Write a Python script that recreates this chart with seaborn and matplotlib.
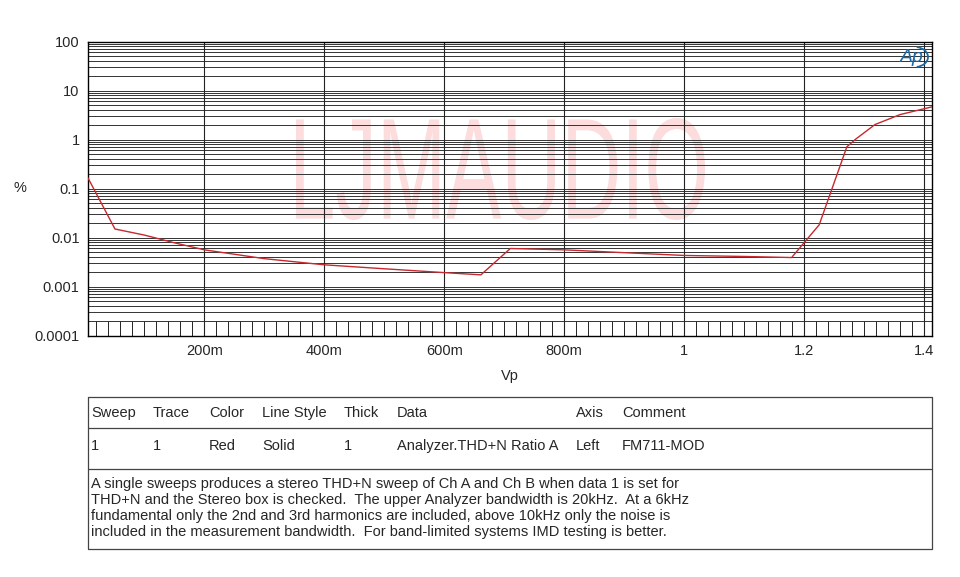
import numpy as np
import pandas as pd
import matplotlib
matplotlib.use("Agg")
import matplotlib.pyplot as plt
import seaborn as sns
from matplotlib.textpath import TextPath
from matplotlib.patches import PathPatch, Arc
from matplotlib.transforms import Affine2D, IdentityTransform
from matplotlib.font_manager import FontProperties
from matplotlib.lines import Line2D

# THD+N vs output voltage (Vp)
vp = [0.006, 0.051, 0.10, 0.15, 0.20, 0.30, 0.40, 0.50, 0.60, 0.661, 0.71,
      0.80, 0.90, 1.00, 1.10, 1.179, 1.225, 1.271, 1.285, 1.318, 1.36, 1.413]
thd = [0.164, 0.0149, 0.0112, 0.0078, 0.0056, 0.0037, 0.00277, 0.0023, 0.00192,
       0.00173, 0.00596, 0.0056, 0.0049, 0.0043, 0.0041, 0.0039, 0.0182, 0.706,
       1.0, 2.02, 3.23, 4.64]

x_ticks = [0.2, 0.4, 0.6, 0.8, 1.0, 1.2, 1.4]
x_labels = ["200m", "400m", "600m", "800m", "1", "1.2", "1.4"]
y_ticks = [1e-4, 1e-3, 1e-2, 1e-1, 1, 10, 100]
y_labels = ["0.0001", "0.001", "0.01", "0.1", "1", "10", "100"]

header = ["Sweep", "Trace", "Color", "Line Style", "Thick", "Data", "Axis", "Comment"]
row1 = ["1", "1", "Red", "Solid", "1", "Analyzer.THD+N Ratio A", "Left", "FM711-MOD"]
col_x = [91, 153, 209, 262, 344, 397, 576, 622]
note = [
    "A single sweeps produces a stereo THD+N sweep of Ch A and Ch B when data 1 is set for",
    "THD+N and the Stereo box is checked.  The upper Analyzer bandwidth is 20kHz.  At a 6kHz",
    "fundamental only the 2nd and 3rd harmonics are included, above 10kHz only the noise is",
    "included in the measurement bandwidth.  For band-limited systems IMD testing is better.",
]

sns.set_style("white")
plt.rcParams["font.family"] = ["Liberation Sans", "DejaVu Sans"]
FS = 10.5

W, H = 960, 577
fig = plt.figure(figsize=(9.6, 5.77), dpi=100)
ax = fig.add_axes([88 / W, 1 - 335.5 / H, (932 - 88) / W, (335.5 - 41.5) / H])

df = pd.DataFrame({"vp": vp, "thd": thd})
sns.lineplot(data=df, x="vp", y="thd", ax=ax, color="#c8282e", lw=1.0,
             sort=False, zorder=5)

ax.set_yscale("log")
ax.set_xlim(0.006, 1.413)
ax.set_ylim(1e-4, 100)

# grid: horizontal at every 1..9 per decade, vertical at major ticks
for dec in range(-4, 2):
    for m in range(1, 10):
        ax.axhline(m * 10.0 ** dec, color="#333333", lw=0.7, zorder=2)
for xv in x_ticks:
    ax.axvline(xv, color="#222222", lw=0.8, zorder=2)
# short minor ticks along the bottom decade
minor = np.arange(0.02, 1.413, 0.02)
ax.vlines(minor, 1e-4, 2e-4, color="#222222", lw=0.7, zorder=2)

ax.set_xticks(x_ticks)
ax.set_xticklabels(x_labels, fontsize=FS)
ax.set_yticks(y_ticks)
ax.set_yticklabels(y_labels, fontsize=FS)
ax.minorticks_off()
ax.tick_params(length=0, pad=6)
ax.set_xlabel("Vp", fontsize=FS, labelpad=8)
ax.set_ylabel("")
for s in ax.spines.values():
    s.set_color("black")
    s.set_linewidth(1.0)

fig.text(20 / W, 1 - 188 / H, "%", fontsize=FS, ha="center", va="center")

# watermark
tp = TextPath((0, 0), "LJMAUDIO", size=100, prop=FontProperties(family="Liberation Sans"))
ext = tp.get_extents()
sx = (705 - 296) / ext.width
sy = (220 - 118) / ext.height
tr = Affine2D().translate(-ext.x0, -ext.y0).scale(sx, sy).translate(296, H - 220)
wm = PathPatch(tp, transform=tr, facecolor="#fcdcdc", edgecolor="none", zorder=1)
ax.add_artist(wm)

# Ap logo
fig.text(912 / W, 1 - 57 / H, "Ap", fontsize=14, style="italic", color="#1b6aa5",
         ha="center", va="center")
fig.add_artist(Arc((915, H - 57), 26, 20, theta1=-80, theta2=80,
                   transform=IdentityTransform(), color="#1b6aa5", lw=1.3))

# table
lc = "#444444"
fig.add_artist(Line2D([88 / W, 932 / W, 932 / W, 88 / W, 88 / W],
                      [1 - 397 / H, 1 - 397 / H, 1 - 549 / H, 1 - 549 / H, 1 - 397 / H],
                      color=lc, lw=0.9))
for yy in (428, 469):
    fig.add_artist(Line2D([88 / W, 932 / W], [1 - yy / H, 1 - yy / H], color=lc, lw=0.9))
for cx, h, r in zip(col_x, header, row1):
    fig.text(cx / W, 1 - 413 / H, h, fontsize=FS, va="center")
    fig.text(cx / W, 1 - 446 / H, r, fontsize=FS, va="center")
for i, line in enumerate(note):
    fig.text(91 / W, 1 - (484 + 16 * i) / H, line, fontsize=FS, va="center")

fig.savefig("out.png", dpi=100)
